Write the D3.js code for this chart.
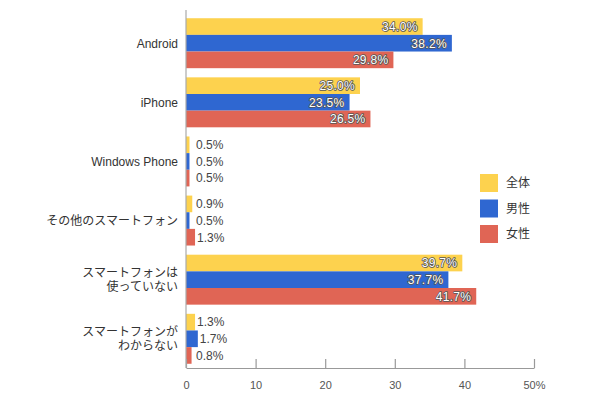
<!DOCTYPE html>
<html><head><meta charset="utf-8">
<script src="https://cdn.jsdelivr.net/npm/d3@7"></script>
<style>body{margin:0;background:#fff}svg{display:block}</style>
</head><body>
<svg id="c" width="610" height="400"></svg>
<script>
const categories = ["Android", "iPhone", "Windows Phone", "その他のスマートフォン", "スマートフォンは\n使っていない", "スマートフォンが\nわからない"];
const seriesNames = ["全体", "男性", "女性"];
const totalVals = [34.0, 25.0, 0.5, 0.9, 39.7, 1.3];
const maleVals = [38.2, 23.5, 0.5, 0.5, 37.7, 1.7];
const femaleVals = [29.8, 26.5, 0.5, 1.3, 41.7, 0.8];
const tickValues = [0, 10, 20, 30, 40, 50];
const tickLabels = ["0", "10", "20", "30", "40", "50%"];
const colors = ["#FDD24E", "#2F67D1", "#E06555"];

const series = [totalVals, maleVals, femaleVals];
const svg = d3.select("#c");
const font = "'Liberation Sans', Arial, 'Noto Sans CJK JP', sans-serif";

const x = d3.scaleLinear().domain([0, 50]).range([186, 534]);
const y = d3.scaleBand().domain(categories).range([13.5, 368.5]).paddingInner(0.155).paddingOuter(0.08);
const ys = d3.scaleBand().domain(seriesNames).range([0, y.bandwidth()]);

// bars
categories.forEach((cat, ci) => {
  const g = svg.append("g").attr("transform", `translate(0,${y(cat)})`);
  seriesNames.forEach((s, si) => {
    const v = series[si][ci];
    g.append("rect").attr("x", x(0)).attr("y", ys(s)).attr("width", x(v) - x(0)).attr("height", ys.bandwidth())
      .attr("fill", colors[si]);
    const inside = v >= 10;
    const t = g.append("text").attr("y", ys(s) + ys.bandwidth() / 2).attr("dy", "0.36em")
      .style("font-family", font).style("font-size", "12px").text(v.toFixed(1) + "%");
    if (inside) {
      t.attr("x", x(v) - 5).attr("text-anchor", "end").attr("fill", "#fff")
        .attr("stroke", "#555").attr("stroke-width", 1.6).attr("paint-order", "stroke").attr("stroke-linejoin", "round")
        .style("letter-spacing", "0.3px");
    } else {
      t.attr("x", Math.max(x(v) + 2, 196)).attr("fill", "#444");
    }
  });
});

// category labels
categories.forEach(cat => {
  const lines = cat.split("\n");
  const cy = y(cat) + y.bandwidth() / 2;
  const lh = 14;
  lines.forEach((ln, i) => {
    svg.append("text").attr("x", 178).attr("y", cy + (i - (lines.length - 1) / 2) * lh).attr("dy", "0.36em")
      .attr("text-anchor", "end").attr("fill", "#333").style("font-family", font).style("font-size", "12px").text(ln);
  });
});

// axes
const xAxis = d3.axisBottom(x).tickValues(tickValues).tickFormat((d, i) => tickLabels[i]).tickSizeInner(-9).tickSizeOuter(0).tickPadding(13);
const ax = svg.append("g").attr("transform", "translate(0,368)").call(xAxis);
ax.select(".domain").attr("stroke", "#999").attr("stroke-width", 1.2);
ax.selectAll(".tick line").attr("stroke", "#999").attr("stroke-width", 1.2);
ax.selectAll(".tick text").attr("fill", "#555").style("font-family", font).style("font-size", "11px");
svg.append("line").attr("x1", x(0)).attr("x2", x(0)).attr("y1", 10).attr("y2", 368).attr("stroke", "#aaa").attr("stroke-width", 1.2);

// legend
seriesNames.forEach((s, i) => {
  const ly = 174 + i * 25.5;
  svg.append("rect").attr("x", 480).attr("y", ly).attr("width", 18).attr("height", 18).attr("fill", colors[i]);
  svg.append("text").attr("x", 506).attr("y", ly + 9).attr("dy", "0.36em").attr("fill", "#333")
    .style("font-family", font).style("font-size", "12px").text(s);
});
</script>
</body></html>
